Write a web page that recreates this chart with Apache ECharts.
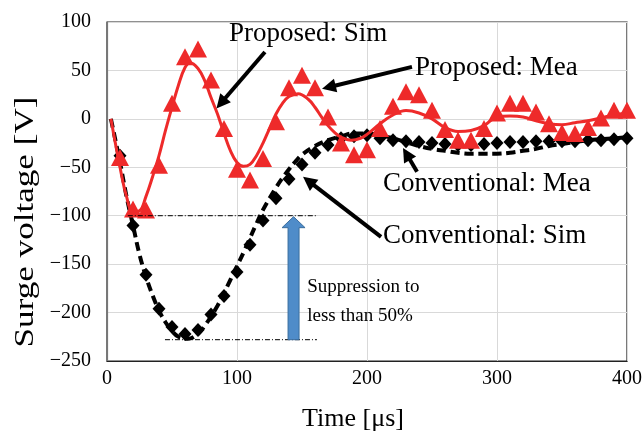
<!DOCTYPE html>
<html><head><meta charset="utf-8">
<script src="https://cdn.jsdelivr.net/npm/echarts@6/dist/echarts.min.js"></script>
<style>html,body{margin:0;padding:0;background:#fff}#c{width:644px;height:434px}</style>
</head><body><div id="c"></div>
<script>
// ---- data ----
const propSimT = [3,10,15,20,25,30,35,40,45,50,55,60,64,70,75,80,85,90,95,100,105,110,115,120,125,130,135,140,147,155,160,165,170,175,180,188,195,200,210,220,230,240,250,260,270,280,290,300,310,320,330,340,350,360,370,380,390,400];
const propSimV = [0,-50,-80,-96,-95,-80,-60,-38,-12,12,35,53,58,52,40,22,5,-15,-33,-45,-49,-47,-38,-25,-10,5,16,23,26,20,12,2,-7,-14,-19,-22,-20,-16,-5,4,8.5,6,0,-9,-13,-12,-7,2,3,2,-2,-5,-6,-4,-2,1,4,6];
const convSimT = [3,10,15,20,25,30,35,40,45,50,55,62,70,75,80,85,90,95,100,105,110,115,120,125,130,135,140,145,150,160,170,180,190,200,210,220,230,240,250,260,270,280,290,300,310,320,330,340,350,360,370,380,390,400];
const convSimV = [0,-45,-80,-110,-140,-163,-182,-198,-210,-219,-225,-227,-222,-214,-204,-193,-180,-166,-152,-138,-123,-108,-94,-82,-71,-61,-52,-44,-37,-28,-22,-18,-15,-15,-17,-20,-24,-28,-31,-33,-35,-36,-36,-36,-35,-33,-31,-28,-26,-24,-22,-21,-20,-19];
const meaT = [10,20,30,40,50,60,70,80,90,100,110,120,130,140,150,160,170,180,190,200,210,220,230,240,250,260,270,280,290,300,310,320,330,340,350,360,370,380,390,400];
const propMeaV = [-40,-93,-94,-48,16,64,72,40,-10,-52,-63,-41,-3,32,45,32,2,-25,-37,-32,-10,13,28,25,9,-11,-22,-22,-10,6,16,16,7,-5,-14,-15,-9,1,9,9];
const convMeaV = [-38,-110,-161,-196,-215,-222,-218,-202,-183,-158,-130,-105,-82,-62,-47,-35,-27,-20,-18,-17,-20,-22,-23,-24,-25,-26,-27,-27,-26,-25,-24,-24,-23,-23,-23,-23,-22,-22,-21,-20];
const seriesNames = ['Conventional: Sim','Conventional: Mea','Proposed: Sim','Proposed: Mea'];
const yTitle = 'Surge voltage [V]';
const xTitle = 'Time [\u03bcs]';
const noteText = ['Suppression to','less than 50%'];

const pair = (t, v) => t.map((x, i) => [x, v[i]]);
const FONT = "'Liberation Serif','Times New Roman',serif";
const RED = '#ee2a2a';

const chart = echarts.init(document.getElementById('c'), null, {renderer:'canvas'});
chart.setOption({
  animation:false,
  backgroundColor:'#fff',
  grid:{left:107,right:17,top:22,bottom:73,outerBoundsMode:'none',containLabel:false,
    show:true,borderColor:'#222',borderWidth:1.2,backgroundColor:'transparent'},
  xAxis:{type:'value',min:0,max:400,interval:100,
    axisLine:{show:true,onZero:false,lineStyle:{color:'#222',width:1.2}},
    axisTick:{show:false},
    splitLine:{show:true,lineStyle:{color:'#d9d9d9',width:1}},
    axisLabel:{color:'#000',fontFamily:FONT,fontSize:20,margin:8},
    name:xTitle,nameLocation:'middle',nameGap:45,
    nameTextStyle:{color:'#000',fontFamily:FONT,fontSize:26,padding:[0,28,0,0]}},
  yAxis:{type:'value',min:-250,max:100,interval:50,
    axisLine:{show:true,onZero:false,lineStyle:{color:'#777',width:1.2}},
    axisTick:{show:false},
    splitLine:{show:true,lineStyle:{color:'#d9d9d9',width:1}},
    axisLabel:{color:'#000',fontFamily:FONT,fontSize:20,margin:16,
      formatter:v=>String(v).replace('-','\u2212')}},
  series:[
    {name:seriesNames[0],type:'line',data:pair(convSimT,convSimV),smooth:0.4,showSymbol:false,
      lineStyle:{color:'#000',width:4,type:[9,5]},z:2},
    {name:seriesNames[1],type:'scatter',data:pair(meaT,convMeaV),symbol:'diamond',symbolSize:[13,14],
      itemStyle:{color:'#000',opacity:1},z:3},
    {name:seriesNames[2],type:'line',data:pair(propSimT,propSimV),smooth:0.4,showSymbol:false,
      lineStyle:{color:RED,width:3},z:4},
    {name:seriesNames[3],type:'scatter',data:pair(meaT,propMeaV),symbol:'triangle',symbolSize:[18,17],
      itemStyle:{color:RED,opacity:1},z:5}
  ]
});

// ---- annotations placed in data coordinates ----
const P = (x, y) => chart.convertToPixel({gridIndex:0}, [x, y]);
const textLabels = [
  {t:seriesNames[2], x:93.8, y:88},
  {t:seriesNames[3], x:237, y:53},
  {t:seriesNames[1], x:212.3, y:-67},
  {t:seriesNames[0], x:212.3, y:-121}
];
const arrows = [
  {from:[121.5,69], to:[84.2,10.8]},
  {from:[234.6,53.7], to:[165.4,31]},
  {from:[238.5,-54.7], to:[227.7,-30]},
  {from:[210.8,-121.8], to:[150.8,-59.9]}
];
const refLines = [
  {from:[16,-100], to:[162,-100]},
  {from:[44.6,-228], to:[161.5,-228]}
];
const blueArrow = {x:143.5, from:-228, to:-101};
const noteAt = {x:154, y1:-174, y2:-204};

const g = [];
textLabels.forEach(l => {
  const p = P(l.x, l.y);
  g.push({type:'text',x:p[0],y:p[1],z:20,style:{text:l.t,fill:'#000',font:'27px '+FONT,textAlign:'left',textVerticalAlign:'middle'}});
});
arrows.forEach(a => {
  const s = P(a.from[0], a.from[1]), e = P(a.to[0], a.to[1]);
  const dx = e[0]-s[0], dy = e[1]-s[1], L = Math.hypot(dx, dy), ux = dx/L, uy = dy/L;
  const hl = 14, hw = 7;
  const bx = e[0]-ux*hl, by = e[1]-uy*hl;
  g.push({type:'line',z:20,shape:{x1:s[0],y1:s[1],x2:bx+ux*2,y2:by+uy*2},style:{stroke:'#000',lineWidth:4}});
  g.push({type:'polygon',z:20,shape:{points:[[e[0],e[1]],[bx-uy*hw,by+ux*hw],[bx+uy*hw,by-ux*hw]]},style:{fill:'#000'}});
});
refLines.forEach(r => {
  const s = P(r.from[0], r.from[1]), e = P(r.to[0], r.to[1]);
  g.push({type:'line',z:6,shape:{x1:s[0],y1:s[1],x2:e[0],y2:e[1]},style:{stroke:'#000',lineWidth:1,lineDash:[5,2,1,2]}});
});
{
  const b = P(blueArrow.x, blueArrow.from), t = P(blueArrow.x, blueArrow.to);
  const cx = b[0], sw = 5.5, hw = 11.5, hl = 11;
  g.push({type:'polygon',z:7,shape:{points:[[cx-sw,b[1]],[cx-sw,t[1]+hl],[cx-hw,t[1]+hl],[cx,t[1]],[cx+hw,t[1]+hl],[cx+sw,t[1]+hl],[cx+sw,b[1]]]},
    style:{fill:'#4f8cc9',stroke:'#3a6d9e',lineWidth:1}});
}
{
  const p1 = P(noteAt.x, noteAt.y1), p2 = P(noteAt.x, noteAt.y2);
  g.push({type:'text',x:p1[0],y:p1[1],z:20,style:{text:noteText[0],fill:'#000',font:'19px '+FONT,textVerticalAlign:'middle'}});
  g.push({type:'text',x:p2[0],y:p2[1],z:20,style:{text:noteText[1],fill:'#000',font:'19px '+FONT,textVerticalAlign:'middle'}});
}
// y-axis title (stretched along its length like the reference)
g.push({type:'text',x:26,y:222,rotation:Math.PI/2,scaleX:1.3,z:20,
  style:{text:yTitle,fill:'#000',font:'27px '+FONT,textAlign:'center',textVerticalAlign:'middle'}});
chart.setOption({graphic:g});
</script>
</body></html>
